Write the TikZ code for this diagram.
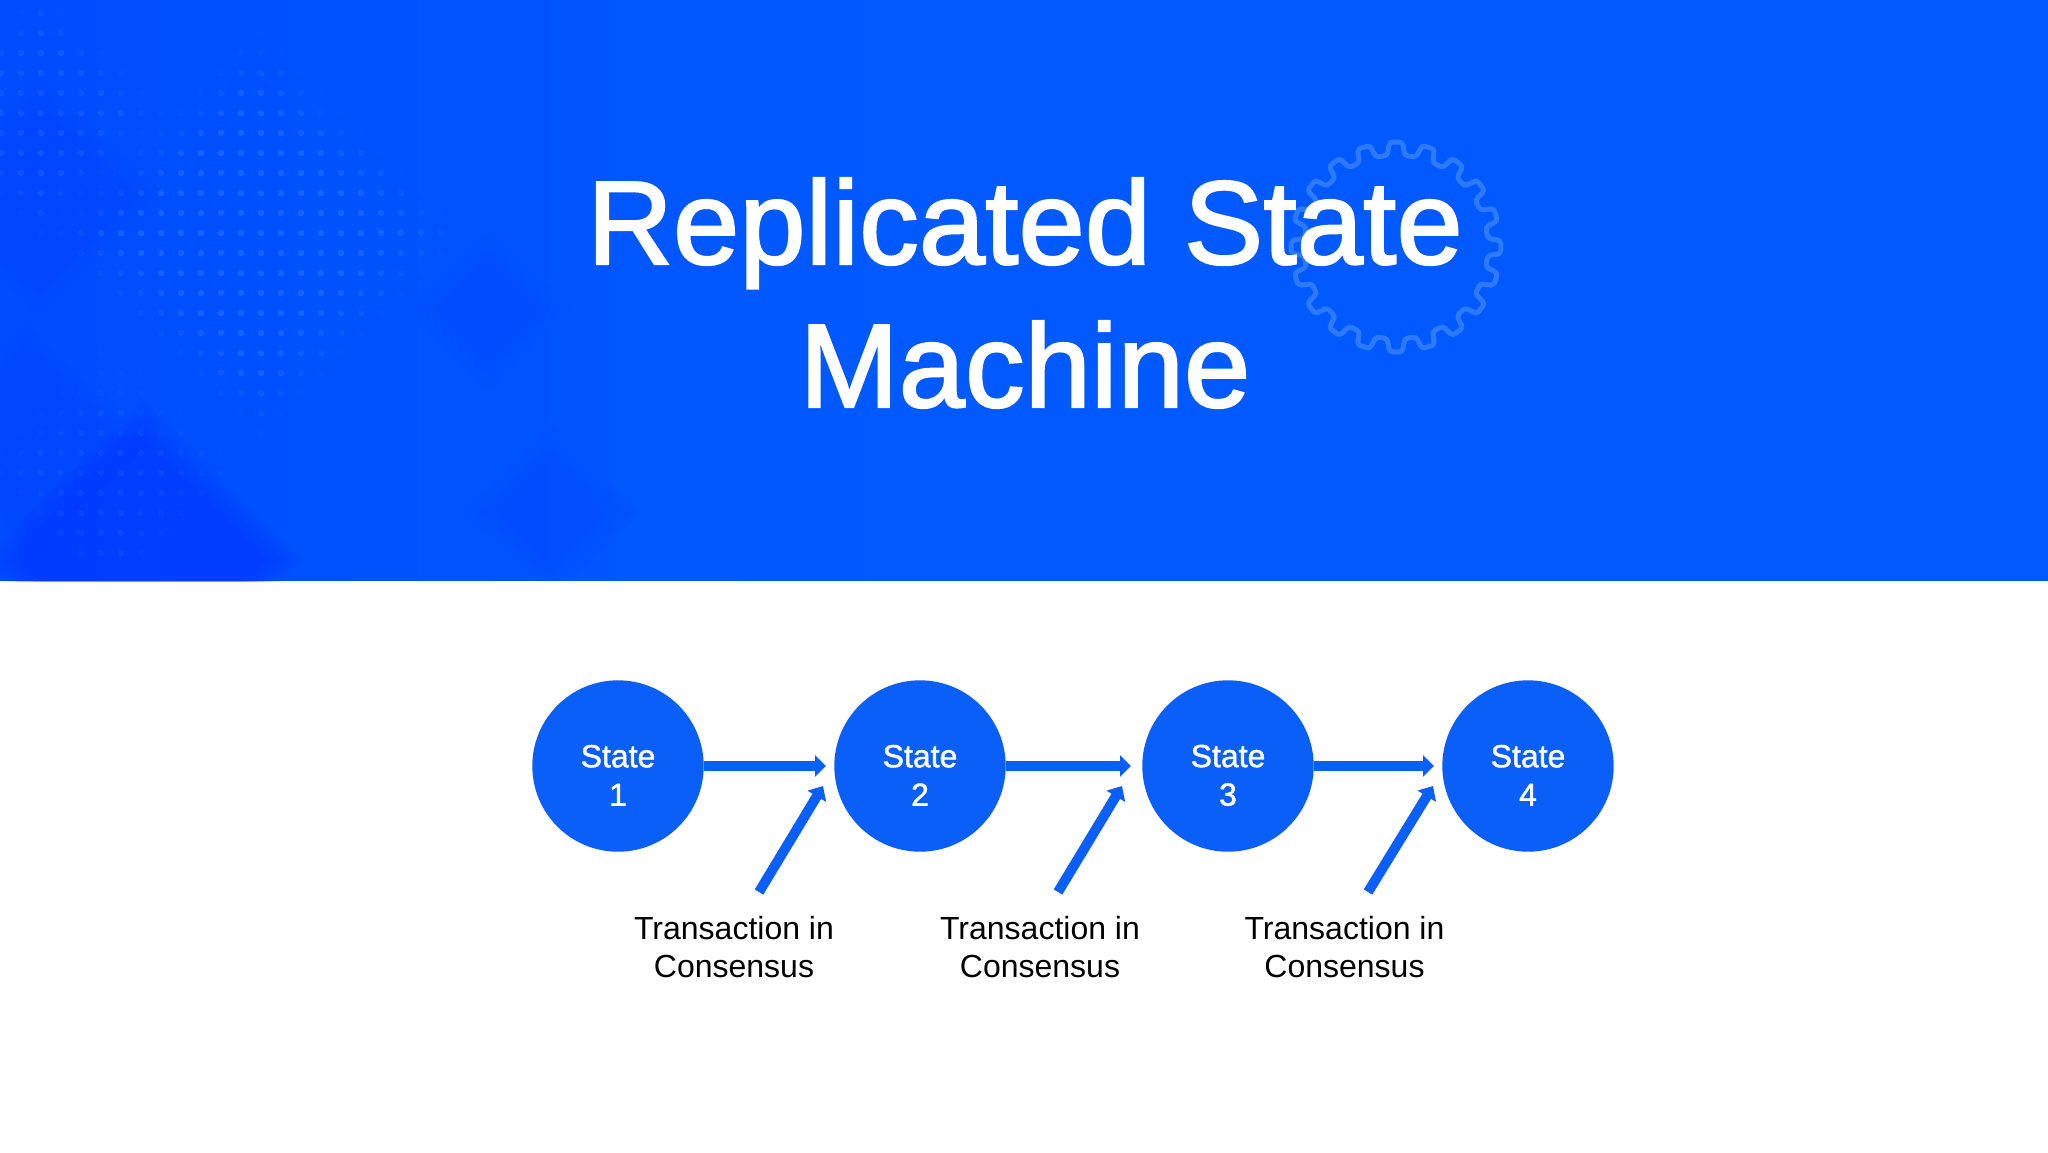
\documentclass[tikz,border=0pt]{standalone}
\usepackage{fontspec}
\setmainfont{Liberation Sans}
\newfontfamily\medfont{Liberation Sans}[FakeBold=1.3]
\newfontfamily\titlefont{Liberation Sans}[FakeBold=2,LetterSpace=0.4]
\usetikzlibrary{arrows.meta}
\definecolor{banner}{HTML}{005AFF}
\definecolor{bannerdark}{HTML}{004CFF}
\definecolor{deep}{HTML}{0030FF}
\definecolor{dotc}{HTML}{3C86FF}
\definecolor{gearc}{HTML}{2E7AFF}
\definecolor{stateblue}{HTML}{0A5FF8}
\tikzset{
  statenode/.style={circle,fill=stateblue,text=white,minimum size=85.7pt,inner sep=0pt,align=center,font=\medfont\fontsize{16}{19.25}\selectfont},
  txnode/.style={text=black,inner sep=0pt,align=center,font=\fontsize{16}{19.25}\selectfont},
  titlenode/.style={text=white,inner sep=0pt,align=center,font=\titlefont\fontsize{59.2}{71.5}\selectfont},
  flow/.style={draw=stateblue,line width=5.4pt,-{Triangle[length=5.5pt,width=10.5pt]}},
  feed/.style={draw=stateblue,line width=5pt,-{Triangle[length=6pt,width=10.5pt]}},
}
\newcommand{\softdiamond}[5]{% cx cy r colour opacity
  \foreach \k in {0,6,...,36}{
    \pgfmathsetmacro{\rr}{#3-\k}
    \fill[#4,opacity=#5] (#1-\rr,#2) -- (#1,#2-\rr) -- (#1+\rr,#2) -- (#1,#2+\rr) -- cycle;
  }
}
\newcommand{\statetext}[1]{\rule{0pt}{20.5pt}State\\#1}
\begin{document}
\begin{tikzpicture}[x=0.5pt,y=-0.5pt]
\useasboundingbox (0,0) rectangle (2048,1152);
\fill[white] (0,0) rectangle (2048,1152);
\begin{scope}
  \clip (0,0) rectangle (2048,581);
  \fill[banner] (0,0) rectangle (2048,581);
  \shade[left color=bannerdark,right color=banner] (0,0) rectangle (900,580);
  \softdiamond{40}{195}{125}{deep}{0.025}
  \softdiamond{143}{560}{160}{deep}{0.09}
  \softdiamond{30}{440}{120}{deep}{0.015}
  \softdiamond{490}{310}{85}{deep}{0.004}
  \softdiamond{550}{510}{90}{deep}{0.005}
  \foreach \i in {0,...,23}{
    \foreach \j in {0,...,27}{
      \pgfmathsetmacro{\px}{1+20*\i}
      \pgfmathsetmacro{\py}{13+20*\j}
      \pgfmathsetmacro{\dA}{abs(\px-40)+abs(\py-113)}
      \pgfmathsetmacro{\dB}{abs(\px-255)+abs(\py-235)}
      \pgfmathsetmacro{\dC}{abs(\px-110)+abs(\py-470)}
      \pgfmathsetmacro{\op}{max(max(0.22*min(1,(130-\dA)/45),0.36*min(1,(215-\dB)/80)),0.14*min(1,(140-\dC)/60))}
      \pgfmathtruncatemacro{\vis}{\op>0.02 ? 1 : 0}
      \ifnum\vis=1
        \fill[dotc,opacity=\op] (\px,\py) circle[radius=3.3];
      \fi
    }
  }
\end{scope}
\draw[gearc,line width=2.5pt,rounded corners=1.5pt,line join=round]
  ([shift={(1396,247)}]-5.5:92)
  \foreach \t in {0,...,19}{
    -- ([shift={(1396,247)}]{\t*18-5.5}:92)
    -- ([shift={(1396,247)}]{\t*18-3.5}:105)
    -- ([shift={(1396,247)}]{\t*18+3.5}:105)
    -- ([shift={(1396,247)}]{\t*18+5.5}:92)
  } -- cycle;
\node[titlenode] (title) at (1025,293) {Replicated State\\Machine};

\node[statenode] (s1) at (618,766) {\statetext{1}};
\node[statenode] (s2) at (920,766) {\statetext{2}};
\node[statenode] (s3) at (1228,766) {\statetext{3}};
\node[statenode] (s4) at (1528,766) {\statetext{4}};

\coordinate (t1) at (826,766);
\coordinate (t2) at (1131,766);
\coordinate (t3) at (1434,766);
\draw[flow] (s1.east) -- (t1);
\draw[flow] (s2.east) -- (t2);
\draw[flow] (s3.east) -- (t3);

\coordinate (f1a) at (759,892);
\coordinate (f1b) at (823,786);
\coordinate (f2a) at (1058,892);
\coordinate (f2b) at (1122,786);
\coordinate (f3a) at (1368,892);
\coordinate (f3b) at (1433,786);
\draw[feed] (f1a) -- (f1b);
\draw[feed] (f2a) -- (f2b);
\draw[feed] (f3a) -- (f3b);

\node[txnode] (l1) at (734,947) {Transaction in\\Consensus};
\node[txnode] (l2) at (1040,947) {Transaction in\\Consensus};
\node[txnode] (l3) at (1344.5,947) {Transaction in\\Consensus};
\end{tikzpicture}
\end{document}
